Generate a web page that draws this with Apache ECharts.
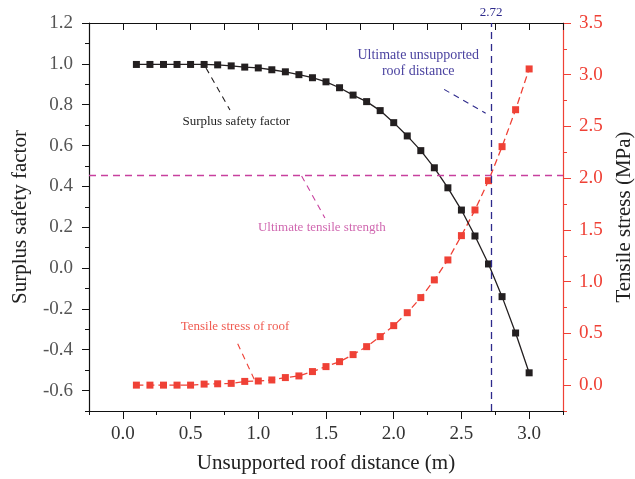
<!DOCTYPE html>
<html><head><meta charset="utf-8">
<script src="https://cdn.jsdelivr.net/npm/echarts@6/dist/echarts.min.js"></script>
<style>html,body{margin:0;padding:0;background:#fff}#c{width:635px;height:479px}</style>
</head><body><div id="c"></div>
<script>
const distance = [0.1,0.2,0.3,0.4,0.5,0.6,0.7,0.8,0.9,1.0,1.1,1.2,1.3,1.4,1.5,1.6,1.7,1.8,1.9,2.0,2.1,2.2,2.3,2.4,2.5,2.6,2.7,2.8,2.9,3.0];
const safetyFactor = [0.997,0.997,0.997,0.997,0.997,0.997,0.995,0.990,0.984,0.980,0.971,0.961,0.947,0.932,0.912,0.883,0.847,0.815,0.771,0.712,0.647,0.575,0.491,0.393,0.284,0.157,0.020,-0.140,-0.318,-0.513];
const tensileStress = [0,0,0,0,0,0.01,0.013,0.017,0.036,0.04,0.05,0.073,0.089,0.131,0.179,0.227,0.295,0.372,0.469,0.575,0.70,0.846,1.017,1.210,1.445,1.693,1.976,2.305,2.662,3.056];
const ultimateTensileStrength = 2.03;
const ultimateDistance = 2.72;
const xTicks = [0,0.5,1.0,1.5,2.0,2.5,3.0];
const leftTicks = [-0.6,-0.4,-0.2,0,0.2,0.4,0.6,0.8,1.0,1.2];
const rightTicks = [0,0.5,1.0,1.5,2.0,2.5,3.0,3.5];

const FONT = 'Liberation Serif';
const black = '#231f20', red = '#ef4136', pink = '#c8409e', navy = '#2e2a8c';

const chart = echarts.init(document.getElementById('c'), null, {renderer:'canvas'});
const noSplit = {show:false};
const xBase = {type:'value', min:-0.25, max:3.25, splitLine:noSplit};
const yL = {type:'value', min:-0.7, max:1.2, position:'left', splitLine:noSplit};
const yR = {type:'value', min:-0.25, max:3.5, position:'right', splitLine:noSplit};

chart.setOption({
  animation:false,
  textStyle:{fontFamily:FONT},
  grid:{left:89,right:72,top:23,bottom:68,containLabel:false,outerBoundsMode:'none'},
  xAxis:[
    Object.assign({}, xBase, {position:'bottom', name:'Unsupported roof distance (m)', nameLocation:'middle', nameGap:42,
      nameTextStyle:{fontSize:21,color:'#222',fontFamily:FONT},
      axisLine:{onZero:false,lineStyle:{color:'#111',width:1.2}},
      axisTick:{customValues:xTicks,length:8,lineStyle:{color:'#111'}},
      axisLabel:{customValues:xTicks,formatter:v=>v.toFixed(1),fontSize:19,color:'#333',margin:14,fontFamily:FONT}}),
    Object.assign({}, xBase, {position:'bottom', interval:0.25, axisLine:{show:false,onZero:false},
      axisTick:{length:4,lineStyle:{color:'#111'}}, axisLabel:{show:false}}),
    Object.assign({}, xBase, {position:'top', interval:0.25,
      axisLine:{onZero:false,lineStyle:{color:'#111',width:1.2}},
      axisTick:{inside:true,length:7,lineStyle:{color:'#111'}}, axisLabel:{show:false}})
  ],
  yAxis:[
    Object.assign({}, yL, {name:'Surplus safety factor', nameLocation:'middle', nameGap:58, nameRotate:90,
      nameTextStyle:{fontSize:21,color:'#222',fontFamily:FONT},
      axisLine:{show:true,onZero:false,lineStyle:{color:'#111',width:1.2}},
      axisTick:{show:true,customValues:leftTicks,length:7,lineStyle:{color:'#111'}},
      axisLabel:{customValues:leftTicks,formatter:v=>v.toFixed(1),fontSize:19,color:'#555',margin:16,fontFamily:FONT}}),
    Object.assign({}, yR, {name:'Tensile stress (MPa)', nameLocation:'middle', nameGap:50, nameRotate:90,
      nameTextStyle:{fontSize:21,color:'#222',fontFamily:FONT},
      axisLine:{show:true,onZero:false,lineStyle:{color:red,width:1.2}},
      axisTick:{show:true,customValues:rightTicks,length:8,lineStyle:{color:red}},
      axisLabel:{customValues:rightTicks,formatter:v=>v.toFixed(1),fontSize:19,color:red,margin:16,fontFamily:FONT}}),
    Object.assign({}, yL, {interval:0.1, axisLine:{show:false,onZero:false},
      axisTick:{show:true,length:4,lineStyle:{color:'#111'}}, axisLabel:{show:false}}),
    Object.assign({}, yR, {interval:0.25, axisLine:{show:false,onZero:false},
      axisTick:{show:true,length:4,lineStyle:{color:red}}, axisLabel:{show:false}})
  ],
  series:[
    {
      name:'Surplus safety factor', type:'line', xAxisIndex:0, yAxisIndex:0,
      data:distance.map((x,i)=>[x,safetyFactor[i]]),
      symbol:'rect', symbolSize:7, itemStyle:{color:black}, lineStyle:{color:black,width:1.3},
      emphasis:{disabled:true}, z:3,
      markLine:{silent:true, symbol:['none','none'], animation:false,
        data:[
          {xAxis:ultimateDistance, lineStyle:{color:navy,type:[7,5],width:1.3},
           label:{show:true,position:'end',formatter:String(ultimateDistance),color:navy,fontSize:13,fontFamily:FONT,distance:4}},
          [{coord:[0.614,0.980],lineStyle:{color:black,type:[6,5],width:1.1},label:{show:false}},{coord:[0.791,0.774]}],
          [{coord:[2.372,0.875],lineStyle:{color:navy,type:[6,5],width:1.1},label:{show:false}},{coord:[2.679,0.758]}]
        ]},
      markPoint:{silent:true, symbol:'rect', symbolSize:0,
        data:[
          {coord:[0.837,0.715], label:{show:true,position:'inside',formatter:'Surplus safety factor',color:'#222',fontSize:13,fontFamily:FONT}},
          {coord:[2.181,1.043], label:{show:true,position:'inside',formatter:'Ultimate unsupported',color:'#4b43a0',fontSize:14,fontFamily:FONT}},
          {coord:[2.181,0.962], label:{show:true,position:'inside',formatter:'roof distance',color:'#4b43a0',fontSize:14,fontFamily:FONT}}
        ]}
    },
    {
      name:'Tensile stress of roof', type:'line', xAxisIndex:0, yAxisIndex:1,
      data:distance.map((x,i)=>[x,tensileStress[i]]),
      symbol:'rect', symbolSize:7, itemStyle:{color:red}, lineStyle:{color:red,width:1.3,type:[7,4]},
      emphasis:{disabled:true}, z:2,
      markLine:{silent:true, symbol:['none','none'], animation:false,
        data:[
          {yAxis:ultimateTensileStrength, lineStyle:{color:pink,type:[7,5],width:1.3,opacity:1}, label:{show:false}},
          [{coord:[1.320,2.022],lineStyle:{color:pink,type:[6,5],width:1.1},label:{show:false}},{coord:[1.492,1.616]}],
          [{coord:[0.848,0.399],lineStyle:{color:red,type:[6,5],width:1.1},label:{show:false}},{coord:[0.970,0.057]}]
        ]},
      markPoint:{silent:true, symbol:'rect', symbolSize:0,
        data:[
          {coord:[1.469,1.519], label:{show:true,position:'inside',formatter:'Ultimate tensile strength',color:'#d068b0',fontSize:13,fontFamily:FONT}},
          {coord:[0.828,0.563], label:{show:true,position:'inside',formatter:'Tensile stress of roof',color:'#f05a50',fontSize:13,fontFamily:FONT}}
        ]}
    }
  ]
});
</script></body></html>
